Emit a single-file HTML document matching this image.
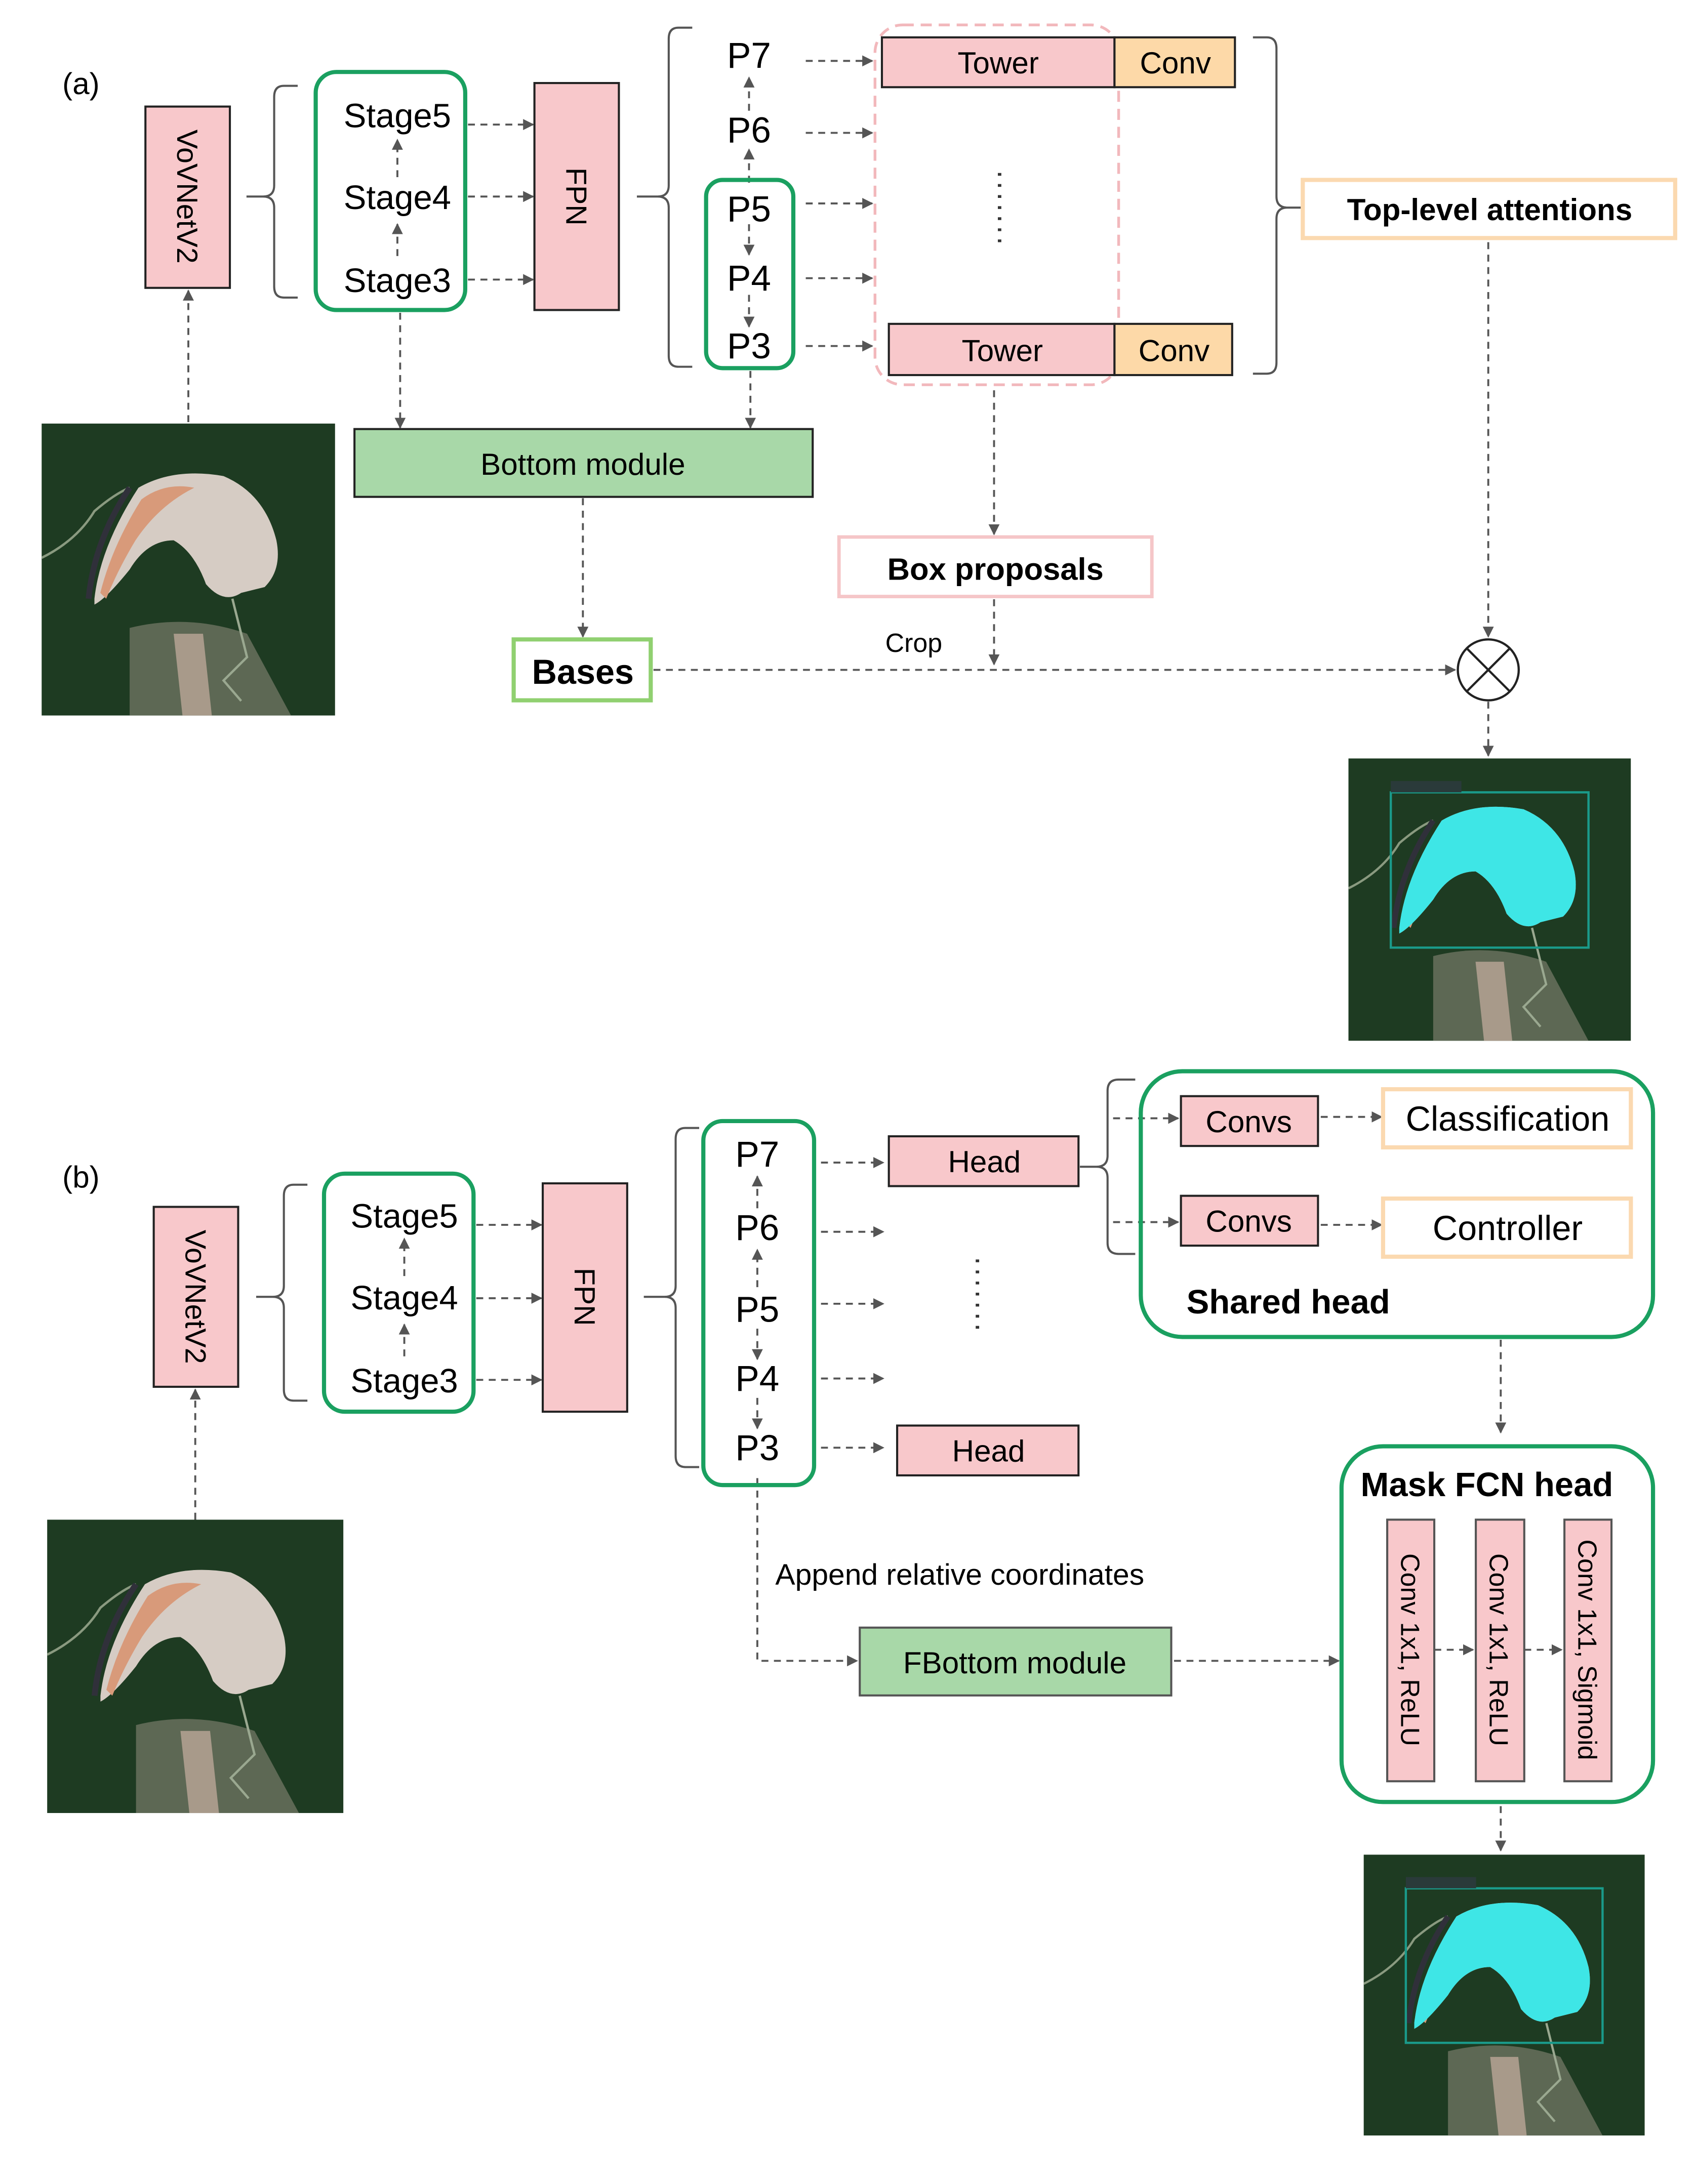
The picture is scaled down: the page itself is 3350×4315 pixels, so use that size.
<!DOCTYPE html>
<html><head><meta charset="utf-8"><style>html,body{margin:0;padding:0;background:#fff}svg{display:block}</style></head>
<body>
<svg xmlns="http://www.w3.org/2000/svg" width="3350" height="4315" viewBox="0 0 1225 1578" font-family="Liberation Sans, Arial, sans-serif">
<defs>
<marker id="a" viewBox="0 0 10 10" refX="9" refY="5" markerWidth="8" markerHeight="8" markerUnits="userSpaceOnUse" orient="auto"><path d="M0,0L10,5L0,10z" fill="#555"/></marker>
<symbol id="sat" viewBox="0 0 100 100" preserveAspectRatio="none">
<rect width="100" height="100" fill="#1e3b22"/>
<path d="M30,70 Q50,65 70,72 L85,100 L30,100z" fill="#6d7462" opacity="0.8"/>
<path d="M45,72 L55,72 L58,100 L48,100z" fill="#a89a8a"/>
<path d="M0,46 Q12,40 18,30 Q25,24 30,22" stroke="#8a9a80" stroke-width="0.8" fill="none"/>
<path d="M65,60 L70,80 L62,88 L68,95" stroke="#9aa890" stroke-width="0.8" fill="none"/>
<path d="M18,60 Q20,42 33,22 Q45,15 62,18 Q76,24 80,40 Q82,50 76,56 L68,58 Q62,62 56,55 Q52,44 45,40 Q36,40 30,50 Q22,60 18,62z" fill="#d6ccc4"/>
<path d="M20,58 Q24,42 34,26 Q42,20 52,22 Q40,28 32,40 Q26,50 22,60z" fill="#d89a7a"/>
<path d="M16,60 Q18,40 30,22" stroke="#30303a" stroke-width="2" fill="none"/>
</symbol>
<symbol id="res" viewBox="0 0 100 100" preserveAspectRatio="none">
<use href="#sat" width="100" height="100"/>
<path d="M18,60 Q20,42 33,22 Q45,15 62,18 Q76,24 80,40 Q82,50 76,56 L68,58 Q62,62 56,55 Q52,44 45,40 Q36,40 30,50 Q22,60 18,62z" fill="#3ee6e6"/>
<rect x="15" y="12" width="70" height="55" fill="none" stroke="#1a9a8a" stroke-width="0.8"/>
<rect x="15" y="8" width="25" height="4" fill="#2a3a3a"/>
</symbol>
</defs>
<g fill="none" stroke="#555" stroke-width="1.4" stroke-dasharray="5 4" marker-end="url(#a)">
<path d="M136,305V210"/>
<path d="M287,185V162"/><path d="M287,128V101"/>
<path d="M338,90H385"/><path d="M338,142H385"/><path d="M338,202H385"/>
<path d="M541,80V56"/><path d="M541,132V108"/>
<path d="M541,162V184"/><path d="M541,213V236"/>
<path d="M582,44H630"/><path d="M582,96H630"/><path d="M582,147H630"/><path d="M582,201H630"/><path d="M582,250H630"/>
<path d="M289,226V309"/><path d="M542,268V309"/>
<path d="M421,360V460"/>
<path d="M718,282V386"/><path d="M718,433V480"/>
<path d="M472,484H1051"/>
<path d="M1075,175V460"/><path d="M1075,507V546"/>
<path d="M141,1098V1004"/>
<path d="M292,980V957"/><path d="M292,922V895"/>
<path d="M344,885H391"/><path d="M344,938H391"/><path d="M344,997H391"/>
<path d="M547,873V850"/><path d="M547,930V903"/><path d="M547,960V982"/><path d="M547,1010V1032"/>
<path d="M593,840H638"/><path d="M593,890H638"/><path d="M593,942H638"/><path d="M593,996H638"/><path d="M593,1046H638"/>
<path d="M804,808H851"/><path d="M804,883H851"/><path d="M954,807H998"/><path d="M954,885H998"/>
<path d="M1084,968V1035"/><path d="M1084,1305V1337"/>
<path d="M547,1068V1200H619"/>
<path d="M848,1200H967"/>
<path d="M1036,1192H1064"/><path d="M1101,1192H1128"/>
</g>
<g fill="none" stroke="#555" stroke-width="1.5">
<path d="M215,62H205Q198,62 198,70V134Q198,142 190,142H178M190,142Q198,142 198,150V207Q198,215 205,215H215"/>
<path d="M500,20H490Q483,20 483,28V134Q483,142 475,142H460M475,142Q483,142 483,150V257Q483,265 490,265H500"/>
<path d="M905,27H915Q922,27 922,35V142Q922,150 930,150H940M930,150Q922,150 922,158V262Q922,270 915,270H905"/>
<path d="M222,856H212Q205,856 205,864V929Q205,937 197,937H185M197,937Q205,937 205,945V1004Q205,1012 212,1012H222"/>
<path d="M505,815H495Q488,815 488,823V929Q488,937 480,937H465M480,937Q488,937 488,945V1052Q488,1060 495,1060H505"/>
<path d="M820,780H808Q800,780 800,788V835Q800,843 792,843H780M792,843Q800,843 800,851V898Q800,906 808,906H820"/>
</g>
<use href="#sat" x="30" y="306" width="212" height="211"/>
<use href="#res" x="974" y="548" width="204" height="204"/>
<use href="#sat" x="34" y="1098" width="214" height="212"/>
<use href="#res" x="985" y="1340" width="203" height="203"/>
<text x="45" y="68" font-size="22">(a)</text>
<rect x="105" y="77" width="61" height="131" fill="#f8c8cb" stroke="#222" stroke-width="1.5"/>
<text transform="translate(128,142) rotate(90)" font-size="21" text-anchor="middle">VoVNetV2</text>
<rect x="228" y="52" width="108" height="172" rx="15" fill="none" stroke="#1aa060" stroke-width="3"/>
<g font-size="24.5" text-anchor="middle"><text x="287" y="92">Stage5</text><text x="287" y="151">Stage4</text><text x="287" y="211">Stage3</text></g>
<rect x="386" y="60" width="61" height="164" fill="#f8c8cb" stroke="#222" stroke-width="1.5"/>
<text transform="translate(409,142) rotate(90)" font-size="21" text-anchor="middle">FPN</text>
<rect x="510" y="130" width="63" height="136" rx="12" fill="none" stroke="#1aa060" stroke-width="3"/>
<g font-size="26" text-anchor="middle"><text x="541" y="49">P7</text><text x="541" y="103">P6</text><text x="541" y="160">P5</text><text x="541" y="210">P4</text><text x="541" y="259">P3</text></g>
<rect x="632" y="18" width="176" height="260" rx="20" fill="none" stroke="#f2b8bc" stroke-width="2" stroke-dasharray="8 5"/>
<rect x="637" y="27" width="168" height="36" fill="#f8c8cb" stroke="#222" stroke-width="1.5"/>
<rect x="805" y="27" width="87" height="36" fill="#fdd9a8" stroke="#222" stroke-width="1.5"/>
<rect x="642" y="234" width="163" height="37" fill="#f8c8cb" stroke="#222" stroke-width="1.5"/>
<rect x="805" y="234" width="85" height="37" fill="#fdd9a8" stroke="#222" stroke-width="1.5"/>
<g font-size="22" text-anchor="middle"><text x="721" y="53">Tower</text><text x="849" y="53">Conv</text><text x="724" y="261">Tower</text><text x="848" y="261">Conv</text></g>
<path d="M722,125V175" stroke="#333" stroke-width="2.5" stroke-dasharray="2 6"/>
<rect x="941" y="130" width="269" height="42" fill="#fff" stroke="#fbd9b0" stroke-width="3"/>
<text x="1076" y="159" font-size="22" font-weight="bold" text-anchor="middle">Top-level attentions</text>
<rect x="256" y="310" width="331" height="49" fill="#a8d8a8" stroke="#222" stroke-width="1.5"/>
<text x="421" y="343" font-size="22" text-anchor="middle">Bottom module</text>
<rect x="606" y="388" width="226" height="43" fill="#fff" stroke="#f5c6c8" stroke-width="2.5"/>
<text x="719" y="419" font-size="22.5" font-weight="bold" text-anchor="middle">Box proposals</text>
<text x="660" y="471" font-size="19" text-anchor="middle">Crop</text>
<rect x="371" y="462" width="99" height="44" fill="#fff" stroke="#90d070" stroke-width="3"/>
<text x="421" y="494" font-size="25" font-weight="bold" text-anchor="middle">Bases</text>
<circle cx="1075" cy="484" r="22" fill="#fff" stroke="#222" stroke-width="1.6"/>
<path d="M1060,469L1090,499M1090,469L1060,499" stroke="#222" stroke-width="1.6"/>
<text x="45" y="858" font-size="22">(b)</text>
<rect x="111" y="872" width="61" height="130" fill="#f8c8cb" stroke="#222" stroke-width="1.5"/>
<text transform="translate(134,937) rotate(90)" font-size="21" text-anchor="middle">VoVNetV2</text>
<rect x="234" y="848" width="108" height="172" rx="15" fill="none" stroke="#1aa060" stroke-width="3"/>
<g font-size="24.5" text-anchor="middle"><text x="292" y="887">Stage5</text><text x="292" y="946">Stage4</text><text x="292" y="1006">Stage3</text></g>
<rect x="392" y="855" width="61" height="165" fill="#f8c8cb" stroke="#222" stroke-width="1.5"/>
<text transform="translate(415,937) rotate(90)" font-size="21" text-anchor="middle">FPN</text>
<rect x="508" y="810" width="80" height="263" rx="14" fill="none" stroke="#1aa060" stroke-width="3"/>
<g font-size="26" text-anchor="middle"><text x="547" y="843">P7</text><text x="547" y="896">P6</text><text x="547" y="955">P5</text><text x="547" y="1005">P4</text><text x="547" y="1055">P3</text></g>
<rect x="642" y="821" width="137" height="36" fill="#f8c8cb" stroke="#222" stroke-width="1.5"/>
<rect x="648" y="1030" width="131" height="36" fill="#f8c8cb" stroke="#222" stroke-width="1.5"/>
<g font-size="22" text-anchor="middle"><text x="711" y="847">Head</text><text x="714" y="1056">Head</text></g>
<path d="M706,910V960" stroke="#333" stroke-width="2.5" stroke-dasharray="2 6"/>
<rect x="824" y="774" width="370" height="192" rx="30" fill="none" stroke="#1aa060" stroke-width="3"/>
<rect x="853" y="792" width="99" height="36" fill="#f8c8cb" stroke="#222" stroke-width="1.5"/>
<rect x="853" y="864" width="99" height="36" fill="#f8c8cb" stroke="#222" stroke-width="1.5"/>
<g font-size="22" text-anchor="middle"><text x="902" y="818">Convs</text><text x="902" y="890">Convs</text></g>
<rect x="999" y="787" width="179" height="42" fill="#fff" stroke="#fbd9b0" stroke-width="3"/>
<rect x="999" y="866" width="179" height="42" fill="#fff" stroke="#fbd9b0" stroke-width="3"/>
<g font-size="25" text-anchor="middle"><text x="1089" y="817">Classification</text><text x="1089" y="896">Controller</text></g>
<text x="857" y="949" font-size="24.5" font-weight="bold">Shared head</text>
<rect x="969" y="1045" width="225" height="257" rx="30" fill="none" stroke="#1aa060" stroke-width="3"/>
<text x="1074" y="1081" font-size="24.5" font-weight="bold" text-anchor="middle">Mask FCN head</text>
<rect x="1002" y="1098" width="34" height="189" fill="#f8c8cb" stroke="#555" stroke-width="1.5"/>
<rect x="1066" y="1098" width="35" height="189" fill="#f8c8cb" stroke="#555" stroke-width="1.5"/>
<rect x="1130" y="1098" width="34" height="189" fill="#f8c8cb" stroke="#555" stroke-width="1.5"/>
<g font-size="19" text-anchor="middle">
<text transform="translate(1012,1192) rotate(90)">Conv 1x1, ReLU</text>
<text transform="translate(1076,1192) rotate(90)">Conv 1x1, ReLU</text>
<text transform="translate(1140,1192) rotate(90)">Conv 1x1, Sigmoid</text>
</g>
<text x="560" y="1145" font-size="21.5">Append relative coordinates</text>
<rect x="621" y="1176" width="225" height="49" fill="#a8d8a8" stroke="#555" stroke-width="1.5"/>
<text x="733" y="1209" font-size="22" text-anchor="middle">FBottom module</text>
</svg>
</body></html>
